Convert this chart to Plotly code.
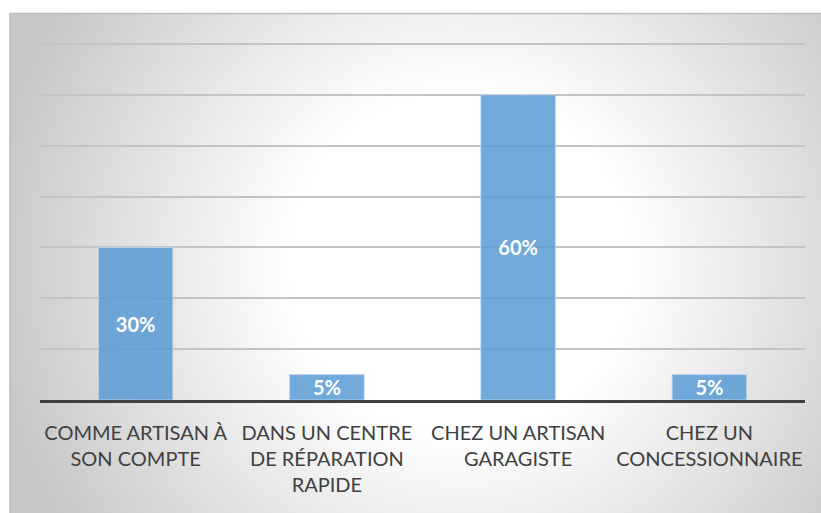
import plotly.graph_objects as go

categories = ["COMME ARTISAN À<br>SON COMPTE",
              "DANS UN CENTRE<br>DE RÉPARATION<br>RAPIDE",
              "CHEZ UN ARTISAN<br>GARAGISTE",
              "CHEZ UN<br>CONCESSIONNAIRE"]
values = [30, 5, 60, 5]
y_ticks = [0, 10, 20, 30, 40, 50, 60, 70]

# background of the chart area: radial grey-to-white gradient, as svg data uri
bg_svg = ("data:image/svg+xml;utf8,"
          "<svg xmlns='http://www.w3.org/2000/svg' width='811' height='500'>"
          "<defs><radialGradient id='g' gradientUnits='userSpaceOnUse' cx='450' cy='250' r='470'>"
          "<stop offset='0' stop-color='%23ffffff'/>"
          "<stop offset='0.36' stop-color='%23ffffff'/>"
          "<stop offset='1' stop-color='%23c8c8c8'/>"
          "</radialGradient></defs>"
          "<rect width='811' height='500' fill='url(%23g)'/></svg>")

W, H = 821, 513
ml, mr, mt, mb = 40, 16, 42, 113
pw, ph = W - ml - mr, H - mt - mb


def px_x(p):
    return (p - ml) / pw


def px_y(p):
    return (H - mb - p) / ph


fig = go.Figure()
fig.add_trace(go.Bar(x=categories, y=values,
                     marker=dict(color="rgba(91,155,213,0.86)",
                                 line=dict(color="rgba(190,215,240,0.9)", width=1)),
                     width=0.39,
                     text=[f"{v}%" for v in values],
                     textposition="inside", insidetextanchor="middle",
                     textangle=0, constraintext="none",
                     textfont=dict(family="Lato", size=20, color="white", weight="bold"),
                     hoverinfo="skip"))

fig.add_layout_image(dict(source=bg_svg, xref="paper", yref="paper",
                          x=px_x(10), y=px_y(13),
                          sizex=px_x(821) - px_x(10), sizey=px_y(13) - px_y(513),
                          sizing="stretch", xanchor="left", yanchor="top", layer="below"))

fig.add_shape(type="rect", xref="paper", yref="paper",
              x0=px_x(10), x1=px_x(822), y0=px_y(13.5), y1=px_y(515),
              line=dict(color="#bdbdbd", width=1.5), layer="below")

fig.update_layout(width=W, height=H,
                  margin=dict(l=ml, r=mr, t=mt, b=mb),
                  paper_bgcolor="white", plot_bgcolor="rgba(0,0,0,0)",
                  showlegend=False,
                  font=dict(family="Lato", color="#404040"))
fig.update_xaxes(showline=True, linecolor="#404040", linewidth=3,
                 tickfont=dict(size=20, color="#404040"), ticks="",
                 tickangle=0, automargin=False,
                 ticklabelstandoff=13, showgrid=False)
# a little headroom above 70 so the top gridline isn't clipped at the edge
fig.update_yaxes(range=[0, 70.4], tickvals=y_ticks, showticklabels=False,
                 showgrid=True, gridcolor="#c4c4c4", gridwidth=1.5,
                 zeroline=False, automargin=False)

# page body has a default 8px margin; drop it so the chart sits at 0,0
fig.write_html("out.html", config={"displayModeBar": False},
               post_script="document.body.style.margin='0';")
